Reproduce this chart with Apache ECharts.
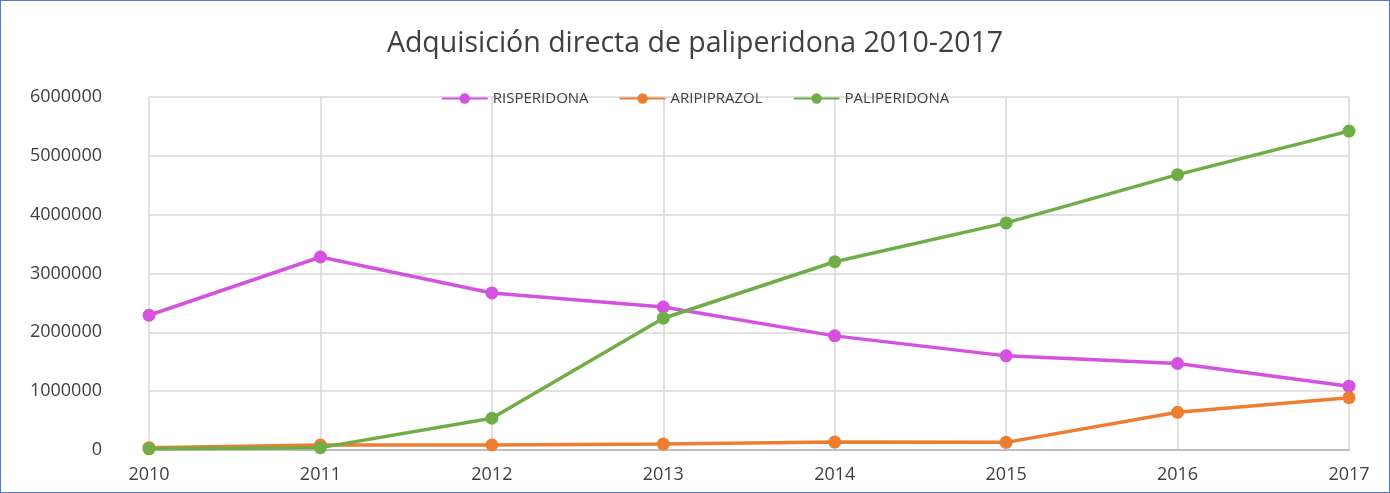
<!DOCTYPE html>
<html>
<head>
<meta charset="utf-8">
<script src="https://cdn.jsdelivr.net/npm/echarts@6/dist/echarts.min.js"></script>
<style>
	html, body { margin: 0; padding: 0; background: #fff; }
	#chart {
		width: 1390px;
		height: 493px;
		box-sizing: border-box;
		border: 1px solid #4f7ac7;
	}
</style>
</head>
<body>
<div id="chart"></div>
<script>
	// años del eje x
	var years = ['2010', '2011', '2012', '2013', '2014', '2015', '2016', '2017'];
	// valores
	var risperidona = [2290000, 3280000, 2670000, 2430000, 1940000, 1600000, 1470000, 1085000];
	var aripiprazol = [40000, 85000, 85000, 100000, 135000, 130000, 640000, 890000];
	var paliperidona = [20000, 40000, 540000, 2240000, 3200000, 3860000, 4680000, 5420000];

	var names = ['RISPERIDONA', 'ARIPIPRAZOL', 'PALIPERIDONA'];
	var colors = ['#d452df', '#ed7d31', '#70ad47'];

	function serie(name, data, color) {
		return {
			name: name,
			type: 'line',
			data: data,
			symbol: 'circle',
			symbolSize: 13,
			lineStyle: { width: 3.5, color: color },
			itemStyle: { color: color },
			z: 3
		};
	}

	var chart = echarts.init(document.getElementById('chart'));
	chart.setOption({
		animation: false,
		title: {
			text: 'Adquisición directa de paliperidona 2010-2017',
			left: 'center',
			top: 23,
			textStyle: {
				fontFamily: 'Open Sans',
				fontSize: 28.5,
				fontWeight: 'normal',
				color: '#404040'
			}
		},
		legend: {
			data: names,
			top: 85,
			left: 'center',
			itemWidth: 46,
			itemHeight: 13,
			itemGap: 30,
			textStyle: { fontFamily: 'Open Sans', fontSize: 15, color: '#404040' }
		},
		grid: {
			left: 148,
			right: 40,
			top: 96,
			bottom: 42
		},
		xAxis: {
			type: 'category',
			data: years,
			boundaryGap: false,
			axisLine: { lineStyle: { color: '#bfbfbf', width: 2 } },
			axisTick: { show: false },
			splitLine: { show: true, lineStyle: { color: '#d9d9d9', width: 1.5 } },
			axisLabel: {
				fontFamily: 'Open Sans',
				fontSize: 18,
				color: '#404040',
				margin: 16
			}
		},
		yAxis: {
			type: 'value',
			min: 0,
			max: 6000000,
			interval: 1000000,
			axisLine: { show: false },
			axisTick: { show: false },
			splitLine: { lineStyle: { color: '#d9d9d9', width: 1.5 } },
			axisLabel: {
				fontFamily: 'Open Sans',
				fontSize: 18,
				color: '#404040',
				margin: 47,
				formatter: function (v) { return String(v); }
			}
		},
		series: [
			serie(names[0], risperidona, colors[0]),
			serie(names[1], aripiprazol, colors[1]),
			serie(names[2], paliperidona, colors[2])
		]
	});
</script>
</body>
</html>
